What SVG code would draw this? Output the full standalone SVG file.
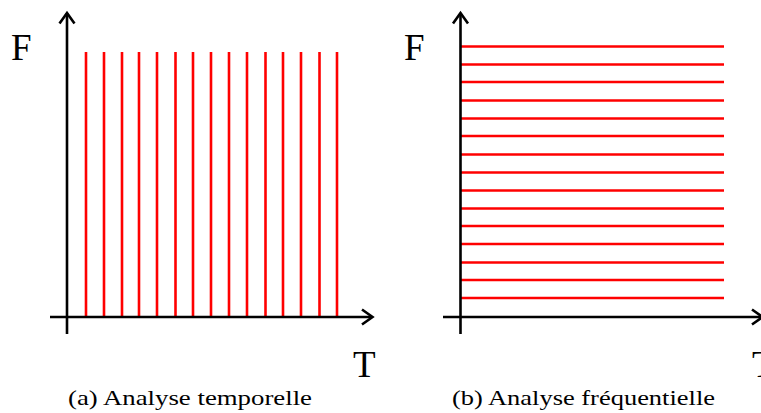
<svg xmlns="http://www.w3.org/2000/svg" width="761" height="413" viewBox="0 0 761 413">
<style>
.ax{stroke:#000;stroke-width:2.6;fill:none}
.hd{stroke:#000;stroke-width:2.6;fill:none;stroke-linejoin:miter}
.r{stroke:#ff0000;stroke-width:2.6}
.lab{font-family:"Liberation Serif","DejaVu Serif",serif;font-size:37px;fill:#000}
.cap{font-family:"Liberation Serif","DejaVu Serif",serif;font-size:22px;fill:#000}
</style>
<rect width="761" height="413" fill="#fff"/>
<g id="panel-a">
<g id="lines-a">
<line class="r" x1="86" y1="52" x2="86" y2="316"/>
<line class="r" x1="104" y1="52" x2="104" y2="316"/>
<line class="r" x1="122" y1="52" x2="122" y2="316"/>
<line class="r" x1="139" y1="52" x2="139" y2="316"/>
<line class="r" x1="157" y1="52" x2="157" y2="316"/>
<line class="r" x1="175.5" y1="52" x2="175.5" y2="316"/>
<line class="r" x1="193" y1="52" x2="193" y2="316"/>
<line class="r" x1="211" y1="52" x2="211" y2="316"/>
<line class="r" x1="229" y1="52" x2="229" y2="316"/>
<line class="r" x1="247" y1="52" x2="247" y2="316"/>
<line class="r" x1="265.5" y1="52" x2="265.5" y2="316"/>
<line class="r" x1="283" y1="52" x2="283" y2="316"/>
<line class="r" x1="301" y1="52" x2="301" y2="316"/>
<line class="r" x1="319.5" y1="52" x2="319.5" y2="316"/>
<line class="r" x1="337" y1="52" x2="337" y2="316"/>
</g>
<g id="axes-a">
<line class="ax" x1="67" y1="334" x2="67" y2="13"/>
<polyline class="hd" points="59.5,23.5 67,13 74.5,23.5"/>
<line class="ax" x1="50" y1="317" x2="372" y2="317"/>
<polyline class="hd" points="362,309.5 372.5,317 362,324.5"/>
</g>
<text class="lab" x="11" y="60">F</text>
<text class="lab" x="353" y="376.5">T</text>
<text class="cap" x="68" y="405" textLength="244" lengthAdjust="spacingAndGlyphs">(a) Analyse temporelle</text>
</g>
<g id="panel-b">
<g id="lines-b">
<line class="r" x1="461" y1="46.5" x2="724" y2="46.5"/>
<line class="r" x1="461" y1="64.5" x2="724" y2="64.5"/>
<line class="r" x1="461" y1="82" x2="724" y2="82"/>
<line class="r" x1="461" y1="100.5" x2="724" y2="100.5"/>
<line class="r" x1="461" y1="118.5" x2="724" y2="118.5"/>
<line class="r" x1="461" y1="136" x2="724" y2="136"/>
<line class="r" x1="461" y1="154.5" x2="724" y2="154.5"/>
<line class="r" x1="461" y1="172.5" x2="724" y2="172.5"/>
<line class="r" x1="461" y1="190.5" x2="724" y2="190.5"/>
<line class="r" x1="461" y1="208.5" x2="724" y2="208.5"/>
<line class="r" x1="461" y1="226" x2="724" y2="226"/>
<line class="r" x1="461" y1="244" x2="724" y2="244"/>
<line class="r" x1="461" y1="262.5" x2="724" y2="262.5"/>
<line class="r" x1="461" y1="280" x2="724" y2="280"/>
<line class="r" x1="461" y1="298" x2="724" y2="298"/>
</g>
<g id="axes-b">
<line class="ax" x1="460.5" y1="334" x2="460.5" y2="13"/>
<polyline class="hd" points="453,23.5 460.5,13 468,23.5"/>
<line class="ax" x1="443" y1="317" x2="762" y2="317"/>
<polyline class="hd" points="752,309.5 762.5,317 752,324.5"/>
</g>
<text class="lab" x="404" y="60">F</text>
<text class="lab" x="752" y="376.5">T</text>
<text class="cap" x="452" y="405" textLength="263" lengthAdjust="spacingAndGlyphs">(b) Analyse fréquentielle</text>
</g>
</svg>
